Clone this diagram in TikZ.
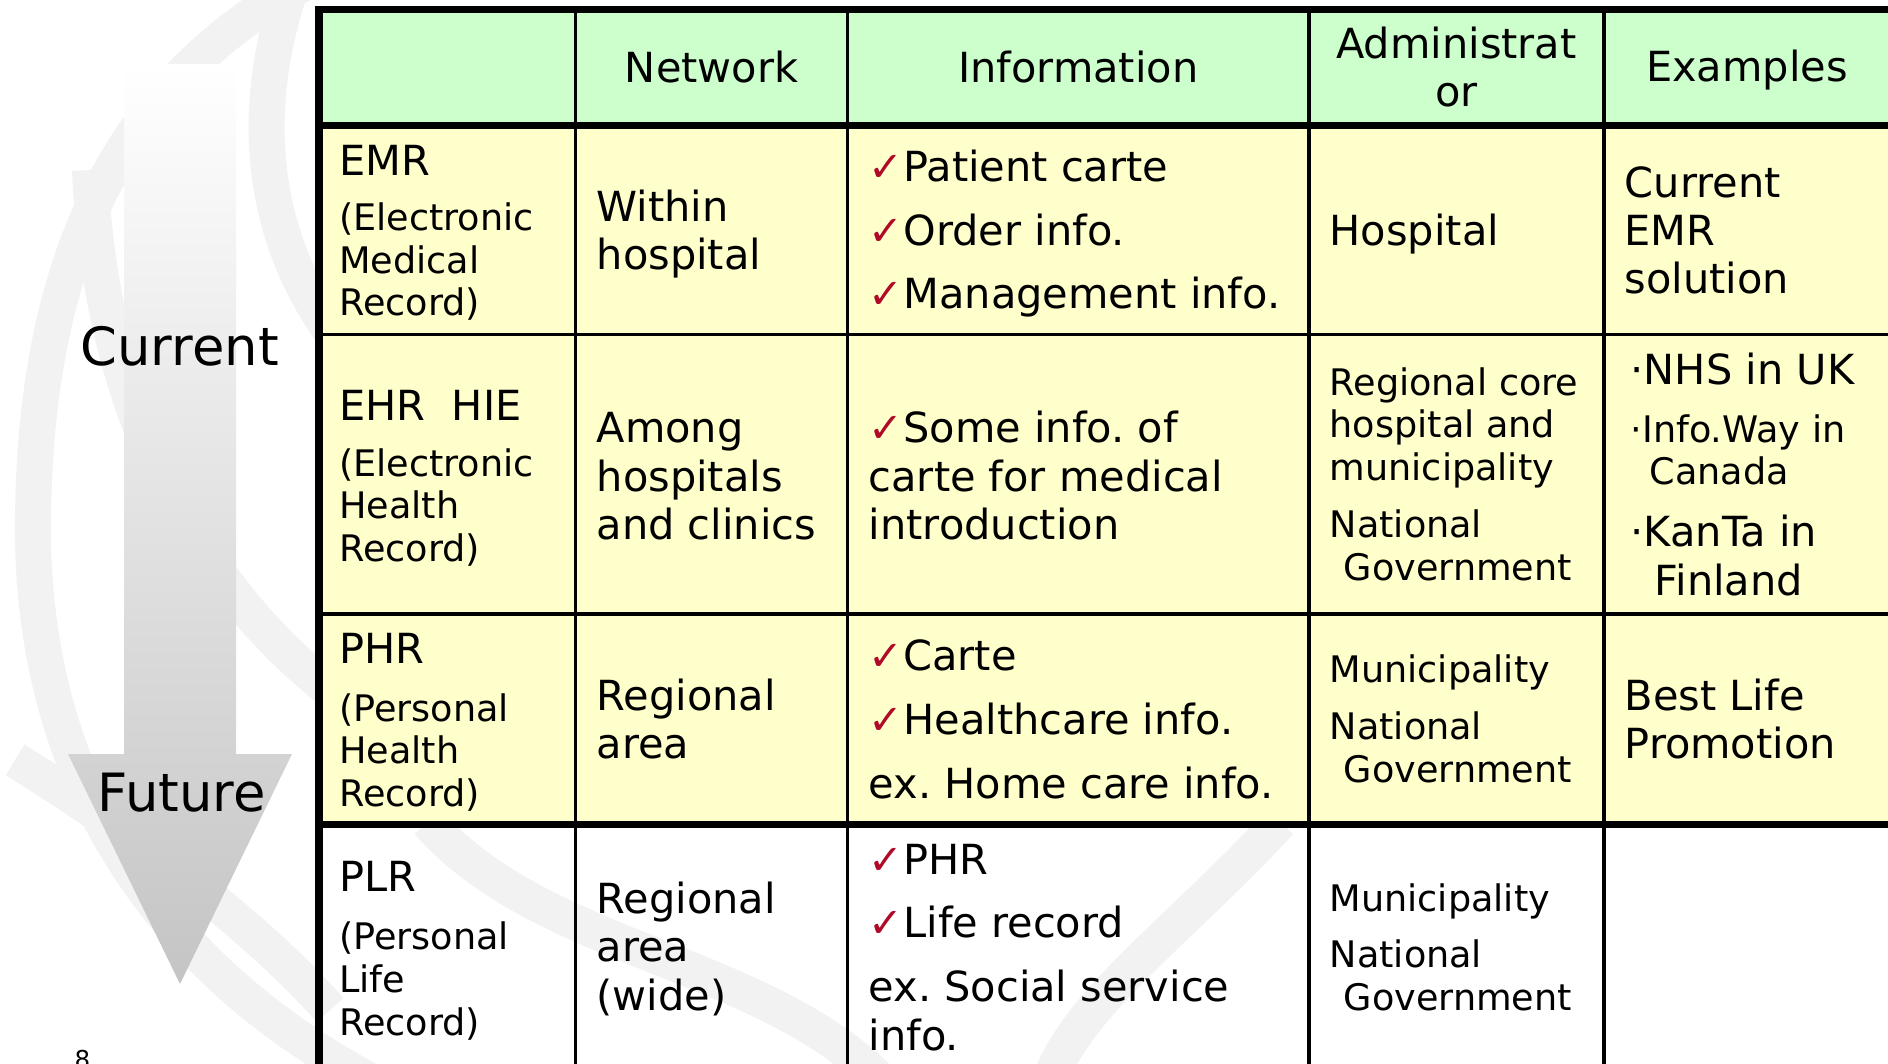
\documentclass[tikz,border=0pt]{standalone}
\usepackage{fontspec}
\setmainfont{DejaVu Sans}
\frenchspacing
\definecolor{hdgreen}{RGB}{204,255,204}
\definecolor{rowyellow}{RGB}{255,255,204}
\definecolor{chkred}{RGB}{175,10,40}
\definecolor{wmgray}{RGB}{242,242,242}
\newcommand{\chk}{\textcolor{chkred}{✓}}
\newcommand{\cellfont}{\fontsize{11.8pt}{13.74pt}\selectfont}
\newcommand{\subfont}{\fontsize{10.4pt}{12.1pt}\selectfont}
\newcommand{\sidefont}{\fontsize{15pt}{18pt}\selectfont}
\begin{document}
\begin{tikzpicture}[x=0.01cm, y=-0.01cm, inner sep=0pt]
	\tikzset{wmark/.style={wmgray, line width=0.36cm},
		thinrule/.style={line width=1pt},
		thickrule/.style={line width=2pt},
		head/.style={font=\cellfont, anchor=base, align=center},
		cell/.style={font=\cellfont, anchor=base west, align=left},
		subcell/.style={font=\subfont, anchor=base west, align=left}}
	\useasboundingbox (0,0) rectangle (1888,1064);
	\clip (0,0) rectangle (1888,1064);
	% watermark
	\draw[wmark] (330,-30) .. controls (120,70) and (35,260) .. (33,520) .. controls (30,800) and (180,1000) .. (430,1110);
	\draw[wmark] (90,170) .. controls (100,400) and (190,580) .. (330,690);
	\draw[wmark] (15,760) .. controls (130,830) and (260,930) .. (330,1010);
	\draw[wmark] (290,-10) .. controls (250,110) and (260,230) .. (330,330);
	\draw[wmark] (428,822) .. controls (540,950) and (760,960) .. (880,1080);
	\draw[wmark] (1280,822) .. controls (1180,930) and (1080,1000) .. (1050,1080);
	% arrow
	\shade[top color=white, bottom color=black!23] (124,64) -- (236,64) -- (236,754) -- (292,754) -- (180,984) -- (68,754) -- (124,754) -- cycle;
	\node[font=\sidefont, anchor=base west] (current) at (80,366) {Current};
	\node[font=\sidefont, anchor=base west] (future) at (97,811) {Future};
	\node[font=\fontsize{7pt}{8pt}\selectfont, anchor=base west] (pageno) at (74,1068) {8};
	% table
	\fill[hdgreen] (319,9.5) rectangle (1895,125.5);
	\fill[rowyellow] (319,125.5) rectangle (1895,824.8);
	\foreach \cx in {575.5,847.7,1308.9,1603.9}
		\draw[thinrule] (\cx,9.5) -- (\cx,1080);
	\foreach \ry in {334.7,614}
		\draw[thinrule] (319,\ry) -- (1895,\ry);
	\draw[thickrule] (1895,9.5) -- (319,9.5) -- (319,1080);
	\draw[thickrule] (319,125.5) -- (1895,125.5);
	\draw[thickrule] (319,824.8) -- (1895,824.8);
	% header (multi-line nodes sit on their last line)
	\node[head] (hnet) at (711.6,83) {Network};
	\node[head] (hinfo) at (1078.3,83) {Information};
	\node[head] (hadm) at (1456.4,106.7) {Administrat\\or};
	\node[head] (hex) at (1747,82) {Examples};
	% EMR
	\node[cell] (emr) at (338.5,176) {EMR};
	\node[subcell] (emrsub) at (338.5,316) {(Electronic\\Medical\\Record)};
	\node[cell] (emrnet) at (596,269.8) {Within\\hospital};
	\node[cell] (emrinfo) at (868,309) {\chk Patient carte\\[0.155cm]\chk Order info.\\[0.155cm]\chk Management info.};
	\node[cell] (emradm) at (1329,246) {Hospital};
	\node[cell] (emrex) at (1624,294) {Current\\EMR\\solution};
	% EHR
	\node[cell] (ehr) at (338.5,420) {EHR\ \ HIE};
	\node[subcell] (ehrsub) at (338.5,561.5) {(Electronic\\Health\\Record)};
	\node[cell] (ehrnet) at (596,539.5) {Among\\hospitals\\and clinics};
	\node[cell] (ehrinfo) at (868,539.5) {\chk Some info. of\\carte for medical\\introduction};
	\node[subcell] (ehradm) at (1329,580) {Regional core\\hospital and\\municipality\\[0.145cm]National\\\hspace*{0.14cm}Government};
	\node[cell] (ehrexa) at (1630,385) {·NHS in UK};
	\node[subcell] (ehrexb) at (1630,485) {·Info.Way in\\\hspace*{0.19cm}Canada};
	\node[cell] (ehrexc) at (1630,595) {·KanTa in\\\hspace*{0.24cm}Finland};
	% PHR
	\node[cell] (phr) at (338.5,663.5) {PHR};
	\node[subcell] (phrsub) at (338.5,806.5) {(Personal\\Health\\Record)};
	\node[cell] (phrnet) at (596,758.6) {Regional\\area};
	\node[cell] (phrinfo) at (868,798.4) {\chk Carte\\[0.155cm]\chk Healthcare info.\\[0.155cm]ex. Home care info.};
	\node[subcell] (phradm) at (1329,782.2) {Municipality\\[0.145cm]National\\\hspace*{0.14cm}Government};
	\node[cell] (phrex) at (1624,758.6) {Best Life\\Promotion};
	% PLR
	\node[cell] (plr) at (338.5,891.7) {PLR};
	\node[subcell] (plrsub) at (338.5,1035) {(Personal\\Life\\Record)};
	\node[cell] (plrnet) at (596,1010) {Regional\\area\\(wide)};
	\node[cell] (plrinfo) at (868,1050) {\chk PHR\\[0.155cm]\chk Life record\\[0.155cm]ex. Social service\\info.};
	\node[subcell] (plradm) at (1329,1010) {Municipality\\[0.13cm]National\\\hspace*{0.14cm}Government};
\end{tikzpicture}
\end{document}
